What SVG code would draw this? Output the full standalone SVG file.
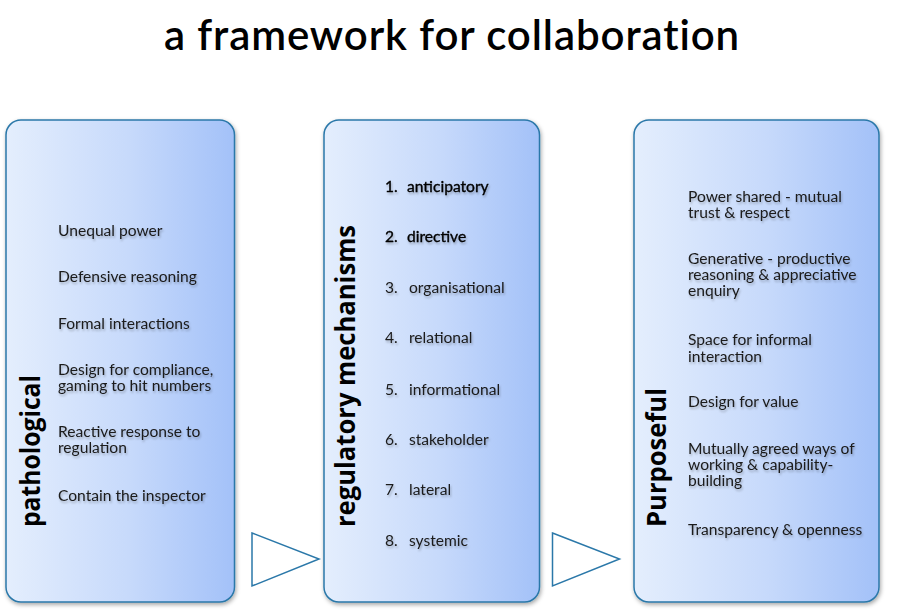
<svg xmlns="http://www.w3.org/2000/svg" width="900" height="611" viewBox="0 0 900 611">
  <defs>
    <linearGradient id="boxGrad" x1="0" y1="0" x2="1" y2="0">
      <stop offset="0" stop-color="#e4eefd"/>
      <stop offset="0.55" stop-color="#c6d9fb"/>
      <stop offset="1" stop-color="#a3c1f8"/>
    </linearGradient>
    <filter id="boxShadow" x="-10%" y="-10%" width="120%" height="120%">
      <feDropShadow dx="1" dy="2" stdDeviation="2" flood-color="#000" flood-opacity="0.35"/>
    </filter>
    <filter id="textShadow" x="-10%" y="-30%" width="120%" height="160%">
      <feDropShadow dx="1" dy="2" stdDeviation="1.3" flood-color="#000" flood-opacity="0.25"/>
    </filter>
  </defs>
  <style>
    .box { fill: url(#boxGrad); stroke: #2b78a9; stroke-width: 1.5; filter: url(#boxShadow); }
    .arrow { fill: #ffffff; stroke: #2b78a9; stroke-width: 1.5; }
    .title { font-family: Lato, "Open Sans", sans-serif; font-weight: 600; font-size: 42px; letter-spacing: 0.9px; fill: #000; }
    .item { font-family: Lato, "Noto Sans", sans-serif; font-size: 15.6px; fill: #1a1a1a; filter: url(#textShadow); }
    .item.strong { fill: #000; stroke: #000; stroke-width: 0.35px; }
    .vlabel { font-family: "Open Sans", Lato, sans-serif; font-weight: 700; font-size: 26px; fill: #000; }
  </style>

  <text class="title" x="452" y="50" text-anchor="middle">a framework for collaboration</text>

  <g id="pathological">
    <rect class="box" x="6" y="120" width="228.5" height="482" rx="15" ry="15"/>
    <text class="vlabel" transform="translate(40,527) rotate(-90)" textLength="152" lengthAdjust="spacingAndGlyphs">pathological</text>
    <text class="item" x="58" y="236">Unequal power</text>
    <text class="item" x="58" y="282">Defensive reasoning</text>
    <text class="item" x="58" y="329">Formal interactions</text>
    <text class="item" x="58" y="375">Design for compliance,<tspan x="58" dy="16">gaming to hit numbers</tspan></text>
    <text class="item" x="58" y="437">Reactive response to<tspan x="58" dy="16">regulation</tspan></text>
    <text class="item" x="58" y="501">Contain the inspector</text>
  </g>

  <g id="regulatory">
    <rect class="box" x="324" y="120" width="215.5" height="482" rx="15" ry="15"/>
    <text class="vlabel" transform="translate(355,527) rotate(-90)" textLength="302" lengthAdjust="spacingAndGlyphs">regulatory mechanisms</text>
    <text class="item strong" x="385" y="192">1.<tspan x="407">anticipatory</tspan></text>
    <text class="item strong" x="385" y="242">2.<tspan x="407">directive</tspan></text>
    <text class="item" x="385" y="293">3.<tspan x="409">organisational</tspan></text>
    <text class="item" x="385" y="343">4.<tspan x="409">relational</tspan></text>
    <text class="item" x="385" y="395">5.<tspan x="409">informational</tspan></text>
    <text class="item" x="385" y="445">6.<tspan x="409">stakeholder</tspan></text>
    <text class="item" x="385" y="495">7.<tspan x="409">lateral</tspan></text>
    <text class="item" x="385" y="546">8.<tspan x="409">systemic</tspan></text>
  </g>

  <g id="purposeful">
    <rect class="box" x="634" y="120" width="245" height="482" rx="15" ry="15"/>
    <text class="vlabel" transform="translate(666,527) rotate(-90)" textLength="139" lengthAdjust="spacingAndGlyphs">Purposeful</text>
    <text class="item" x="688" y="202">Power shared - mutual<tspan x="688" dy="16">trust &amp; respect</tspan></text>
    <text class="item" x="688" y="264">Generative - productive<tspan x="688" dy="16">reasoning &amp; appreciative</tspan><tspan x="688" dy="16">enquiry</tspan></text>
    <text class="item" x="688" y="345">Space for informal<tspan x="688" dy="16.5">interaction</tspan></text>
    <text class="item" x="688" y="407">Design for value</text>
    <text class="item" x="688" y="454">Mutually agreed ways of<tspan x="688" dy="16">working &amp; capability-</tspan><tspan x="688" dy="16">building</tspan></text>
    <text class="item" x="688" y="535">Transparency &amp; openness</text>
  </g>

  <g id="connectors">
    <polygon class="arrow" points="252,533 319,559 252,586"/>
    <polygon class="arrow" points="552.5,533 619.5,559 552.5,586"/>
  </g>
</svg>
